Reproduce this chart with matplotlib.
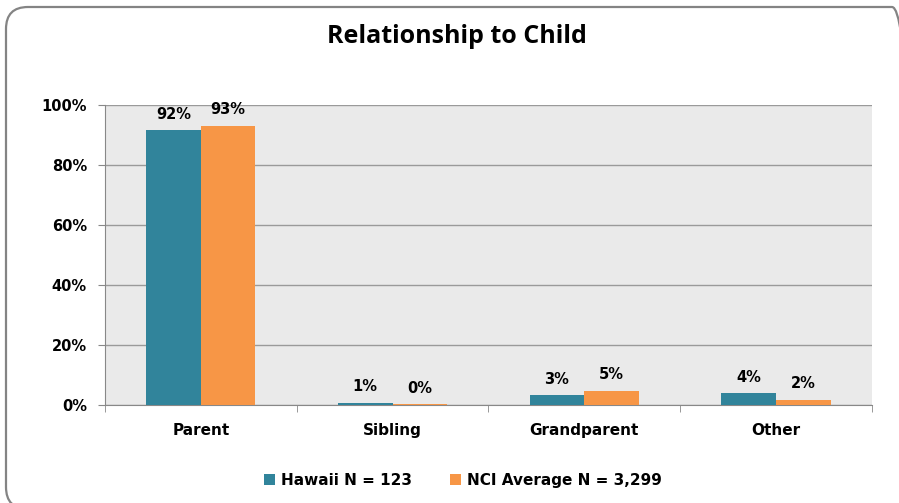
import matplotlib.pyplot as plt
import numpy as np
from matplotlib.patches import FancyBboxPatch

categories = ["Parent", "Sibling", "Grandparent", "Other"]
hawaii = [91.7, 0.7, 3.3, 4.0]
nci = [93.2, 0.3, 4.7, 1.7]
series_names = ["Hawaii N = 123", "NCI Average N = 3,299"]
colors = ["#31849B", "#F79646"]

fig = plt.figure(figsize=(8.99, 5.03), dpi=100)
fig.patch.set_facecolor("white")

# rounded chart frame, runs off the right and bottom edges like the original
frame = FancyBboxPatch((6, -6), 908, 502, boxstyle="round,pad=0,rounding_size=22",
                       transform=None, facecolor="none", edgecolor="#848484", lw=1.6)
fig.patches.append(frame)

ax = fig.add_axes([0.1168, 0.195, 0.853, 0.596])
ax.set_facecolor("#EAEAEA")

x = np.arange(len(categories))
w = 0.285
for vals, name, c, off in [(hawaii, series_names[0], colors[0], -w / 2), (nci, series_names[1], colors[1], w / 2)]:
    bars = ax.bar(x + off, vals, w, color=c, label=name, zorder=3)
    for b, v in zip(bars, vals):
        ax.annotate(f"{round(v)}%", (b.get_x() + b.get_width() / 2, v), xytext=(0, 6),
                    textcoords="offset points", ha="center", va="bottom",
                    fontsize=10.5, fontweight="bold", family="DejaVu Sans")

ax.set_xlim(-0.5, len(categories) - 0.5)
ax.set_ylim(0, 100)
ax.set_yticks(np.arange(0, 101, 20))
ax.set_yticklabels([f"{t}%" for t in range(0, 101, 20)], fontsize=10.5, fontweight="bold")
ax.yaxis.grid(True, color="#9a9a9a", lw=1, zorder=0)
ax.set_axisbelow(True)

ax.set_xticks(x)
ax.set_xticklabels(categories, fontsize=11, fontweight="bold", family="DejaVu Sans")
ax.tick_params(axis="x", length=0, pad=13)
ax.set_xticks(np.arange(-0.5, len(categories)), minor=True)
ax.tick_params(axis="x", which="minor", length=5, color="#888888")
ax.tick_params(axis="y", length=5, color="#888888", pad=8)

for s in ["top", "right"]:
    ax.spines[s].set_visible(False)
for s in ["left", "bottom"]:
    ax.spines[s].set_color("#888888")

fig.text(0.508, 0.927, "Relationship to Child", ha="center", va="center",
         fontsize=18, fontweight="bold", family="Open Sans")

fig.legend(loc="center", bbox_to_anchor=(0.515, 0.045), ncol=2, frameon=False,
           prop={"size": 11, "weight": "bold", "family": "DejaVu Sans"},
           handlelength=0.7, handleheight=0.7, handletextpad=0.4, columnspacing=2.5)

fig.savefig("out.png", dpi=100)
